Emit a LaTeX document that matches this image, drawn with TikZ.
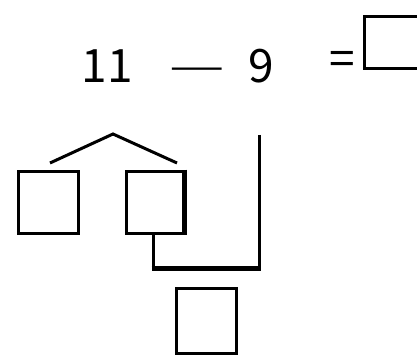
\documentclass[tikz,border=0pt]{standalone}
\usepackage{fontspec}
\usepackage{graphicx}
\setmainfont{Noto Sans CJK JP}
\begin{document}
\begin{tikzpicture}[x=1pt,y=-1pt,
  txt/.style={inner sep=0pt,font=\fontsize{46}{50}\selectfont},
  box/.style={draw,line width=3pt}]
\useasboundingbox (0,0) rectangle (417,358);
\node[txt] (a) at (107,66) {11};
\node[txt] (m) at (197,74) {\scalebox{1.35}[0.8]{—}};
\node[txt] (b) at (261,66) {9};
\node[txt] (e) at (342,63) {=};
\draw[line width=3pt] (418,17) -- (364,17) -- (364,69) -- (418,69);
\draw[box] (18,171) rectangle (78,233);
\draw[box] (126,171) rectangle (184,233);
\draw[line width=5pt] (184,169.5) -- (184,234.5);
\draw[box] (176,288) rectangle (236,353);
\coordinate (ap) at (113,134);
\draw[line width=3pt] (50,163) -- (ap) -- (177,163);
\draw[line width=3pt] (153,233) -- (153,269);
\draw[line width=5pt] (151.5,268) -- (260.5,268);
\draw[line width=3pt] (259,135) -- (259,270.5);
\end{tikzpicture}
\end{document}
